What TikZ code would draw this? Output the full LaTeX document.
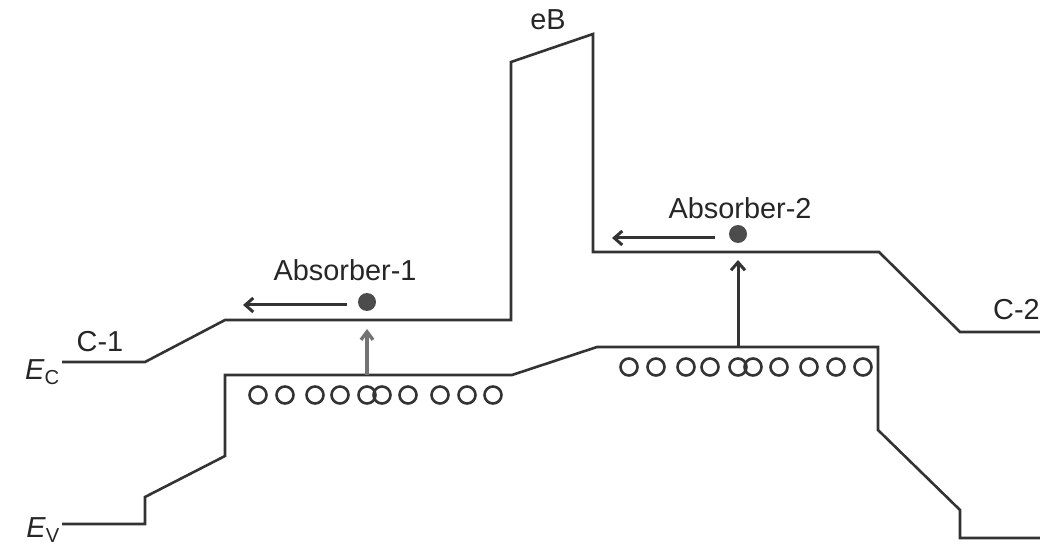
\documentclass[tikz,border=0pt]{standalone}
\usepackage{fontspec}
\setmainfont{Liberation Sans}
\usetikzlibrary{arrows.meta}
\begin{document}
\begin{tikzpicture}[x=1bp,y=-1bp,
  band/.style={draw=black!80, line width=2.6bp, line join=miter},
  lbl/.style={font=\fontsize{29}{32}\selectfont, text=black!85, inner sep=0pt},
  hole/.style={circle, draw=black!80, line width=2.6bp, minimum size=17bp, inner sep=0pt},
  elec/.style={circle, fill=black!70, minimum size=18bp, inner sep=0pt},
  mvarrow/.style={-{Straight Barb[length=8bp,width=14bp]}, draw=black!80, line width=3bp},
  exarrow/.style={-{Straight Barb[length=8bp,width=12bp]}, draw=black!55, line width=3.4bp}]
\useasboundingbox (0,0) rectangle (1040,547);
% conduction band
\draw[band] (62,362) -- (145,362) -- (225,320) -- (511,320) -- (511,62) -- (593,34)
  -- (593,252) -- (879,252) -- (960,332) -- (1040,332);
% valence band
\draw[band] (62,524) -- (145,524) -- (145,497) -- (225,456) -- (225,375) -- (512,375)
  -- (597,347) -- (878,347) -- (878,430) -- (960,510) -- (960,538) -- (1040,538);
% labels
\node[lbl] (eB) at (548,20) {eB};
\node[lbl] (abs1) at (345,270) {Absorber-1};
\node[lbl] (abs2) at (740,208) {Absorber-2};
\node[lbl] (c1) at (100,342) {C-1};
\node[lbl, anchor=west] (c2) at (993,310) {C-2};
\node[lbl, anchor=east] (ec) at (60,372) {\textit{E}\textsubscript{C}};
\node[lbl, anchor=east] (ev) at (60,530) {\textit{E}\textsubscript{V}};
% holes absorber-1
\foreach \x [count=\i] in {258,285,315,340,367,382,408,440,467,493}
  \node[hole] (ha\i) at (\x,395) {};
% holes absorber-2
\foreach \x [count=\i] in {629,656,686,710,738,753,779,809,836,863}
  \node[hole] (hb\i) at (\x,367) {};
% electrons
\node[elec] (e1) at (367,302) {};
\node[elec] (e2) at (738,234) {};
% arrows
\coordinate (s1) at (347,305);
\coordinate (t1) at (243,305);
\coordinate (s2) at (715,238);
\coordinate (t2) at (612,238);
\draw[mvarrow] (s1) -- (t1);
\draw[mvarrow] (s2) -- (t2);
\coordinate (v1a) at (367,375);
\coordinate (v1b) at (367,329);
\coordinate (v2a) at (738,347);
\coordinate (v2b) at (738,260);
\draw[exarrow] (v1a) -- (v1b);
\draw[mvarrow] (v2a) -- (v2b);
\end{tikzpicture}
\end{document}
